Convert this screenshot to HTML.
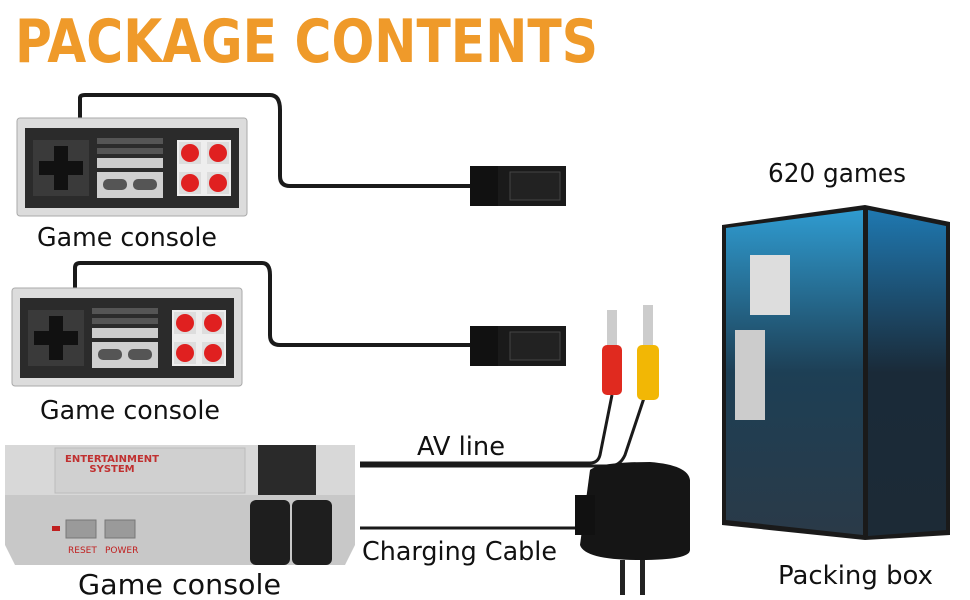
<!DOCTYPE html>
<html><head><meta charset="utf-8"><style>
html,body{margin:0;padding:0;background:#fff;}
svg{display:block;}
text{font-family:"DejaVu Sans","Liberation Sans",sans-serif;}
</style></head><body>
<svg width="970" height="600" viewBox="0 0 970 600" xmlns="http://www.w3.org/2000/svg">
<defs>
<linearGradient id="bf" x1="0" y1="0" x2="0" y2="1"><stop offset="0" stop-color="#2f9bd0"/><stop offset="0.5" stop-color="#1d3f55"/><stop offset="1" stop-color="#2a3a48"/></linearGradient>
<linearGradient id="bs" x1="0" y1="0" x2="0" y2="1"><stop offset="0" stop-color="#1f78b0"/><stop offset="0.5" stop-color="#1a2a38"/><stop offset="1" stop-color="#1c2a36"/></linearGradient>
<g id="pad">
<rect x="0" y="0" width="230" height="98" rx="3" fill="#dcdcdc" stroke="#aaa"/>
<rect x="8" y="10" width="214" height="80" fill="#2b2b2b"/>
<rect x="16" y="22" width="56" height="56" fill="#3a3a3a"/>
<rect x="37" y="28" width="14" height="44" fill="#111"/><rect x="22" y="43" width="44" height="14" fill="#111"/>
<rect x="80" y="20" width="66" height="6" fill="#555"/><rect x="80" y="30" width="66" height="6" fill="#555"/>
<rect x="80" y="40" width="66" height="10" fill="#ccc"/>
<rect x="80" y="54" width="66" height="26" fill="#cfcfcf"/>
<rect x="86" y="61" width="24" height="11" rx="5" fill="#555"/><rect x="116" y="61" width="24" height="11" rx="5" fill="#555"/>
<rect x="160" y="22" width="54" height="56" fill="#eee"/>
<rect x="162" y="24" width="22" height="22" fill="#ddd"/><circle cx="173" cy="35" r="9" fill="#e02020"/>
<rect x="190" y="24" width="22" height="22" fill="#ddd"/><circle cx="201" cy="35" r="9" fill="#e02020"/>
<rect x="162" y="54" width="22" height="22" fill="#ddd"/><circle cx="173" cy="65" r="9" fill="#e02020"/>
<rect x="190" y="54" width="22" height="22" fill="#ddd"/><circle cx="201" cy="65" r="9" fill="#e02020"/>
</g>
<g id="plug">
<rect x="0" y="0" width="28" height="40" fill="#111"/>
<path d="M28 0 H96 V40 H28 Z" fill="#1a1a1a"/>
<rect x="40" y="6" width="50" height="28" fill="#222" stroke="#444"/>
</g>
</defs>
<text x="15" y="62" font-weight="bold" font-size="60" fill="#ef9a2a" textLength="583" lengthAdjust="spacingAndGlyphs">PACKAGE CONTENTS</text>

<path d="M80 118 V98 Q80 95 85 95 H270 Q280 95 280 110 V176 Q280 186 290 186 H470" fill="none" stroke="#1a1a1a" stroke-width="4"/>
<path d="M75 288 V268 Q75 263 80 263 H262 Q270 263 270 275 V335 Q270 345 280 345 H470" fill="none" stroke="#1a1a1a" stroke-width="4"/>
<use href="#pad" x="17" y="118"/>
<use href="#pad" x="12" y="288"/>
<use href="#plug" x="470" y="166"/>
<use href="#plug" x="470" y="326"/>
<text x="37" y="246" font-size="26" fill="#111" textLength="180" lengthAdjust="spacingAndGlyphs">Game console</text>
<text x="40" y="419" font-size="26" fill="#111" textLength="180" lengthAdjust="spacingAndGlyphs">Game console</text>

<path d="M360 463 H590 Q598 463 600 455 L612 395" fill="none" stroke="#1a1a1a" stroke-width="3"/>
<path d="M360 466 H610 Q620 466 625 455 L645 395" fill="none" stroke="#1a1a1a" stroke-width="3"/>
<rect x="602" y="345" width="20" height="50" rx="5" fill="#e02a1f"/><rect x="607" y="310" width="10" height="35" fill="#ccc"/>
<rect x="637" y="345" width="22" height="55" rx="5" fill="#f2b705"/><rect x="643" y="305" width="10" height="40" fill="#ccc"/>
<text x="417" y="455" font-size="26" fill="#111" textLength="88" lengthAdjust="spacingAndGlyphs">AV line</text>

<path d="M360 528 H575" stroke="#1a1a1a" stroke-width="3"/>
<path d="M590 470 Q600 462 650 462 Q688 465 690 480 V550 Q690 560 640 560 Q585 560 580 545 Z" fill="#151515"/>
<rect x="575" y="495" width="20" height="40" fill="#111"/>
<rect x="620" y="560" width="5" height="35" fill="#222"/><rect x="640" y="560" width="5" height="35" fill="#222"/>
<text x="362" y="560" font-size="26" fill="#111" textLength="195" lengthAdjust="spacingAndGlyphs">Charging Cable</text>

<path d="M5 445 H355 V545 L345 565 H15 L5 545 Z" fill="#c8c8c8"/>
<rect x="5" y="445" width="350" height="50" fill="#d8d8d8"/>
<rect x="55" y="448" width="190" height="45" fill="#d0d0d0" stroke="#bbb"/>
<text x="112" y="462" text-anchor="middle" font-family="Liberation Serif" font-weight="bold" font-size="10" fill="#c03030">ENTERTAINMENT</text>
<text x="112" y="472" text-anchor="middle" font-family="Liberation Serif" font-weight="bold" font-size="10" fill="#c03030">SYSTEM</text>
<rect x="258" y="445" width="58" height="50" fill="#2a2a2a"/>
<rect x="250" y="500" width="40" height="65" rx="6" fill="#1e1e1e"/>
<rect x="292" y="500" width="40" height="65" rx="6" fill="#1e1e1e"/>
<rect x="52" y="526" width="8" height="5" fill="#c02020"/>
<rect x="66" y="520" width="30" height="18" fill="#9a9a9a" stroke="#777"/>
<rect x="105" y="520" width="30" height="18" fill="#9a9a9a" stroke="#777"/>
<text x="68" y="553" font-size="9" fill="#c02020" font-family="Liberation Sans">RESET</text>
<text x="105" y="553" font-size="9" fill="#c02020" font-family="Liberation Sans">POWER</text>
<text x="78" y="594" font-size="28" fill="#111" textLength="203" lengthAdjust="spacingAndGlyphs">Game console</text>

<text x="768" y="182" font-size="26" fill="#111" textLength="138" lengthAdjust="spacingAndGlyphs">620 games</text>
<path d="M722 225 L865 205 L950 222 L950 535 L865 540 L722 525 Z" fill="#1a1a1a"/>
<path d="M726 228 L863 210 L863 535 L726 520 Z" fill="url(#bf)"/>
<path d="M868 210 L946 226 L946 530 L868 536 Z" fill="url(#bs)"/>
<rect x="750" y="255" width="40" height="60" fill="#ddd"/>
<rect x="735" y="330" width="30" height="90" fill="#ccc"/>
<text x="778" y="584" font-size="26" fill="#111" textLength="155" lengthAdjust="spacingAndGlyphs">Packing box</text>
</svg>
</body></html>
